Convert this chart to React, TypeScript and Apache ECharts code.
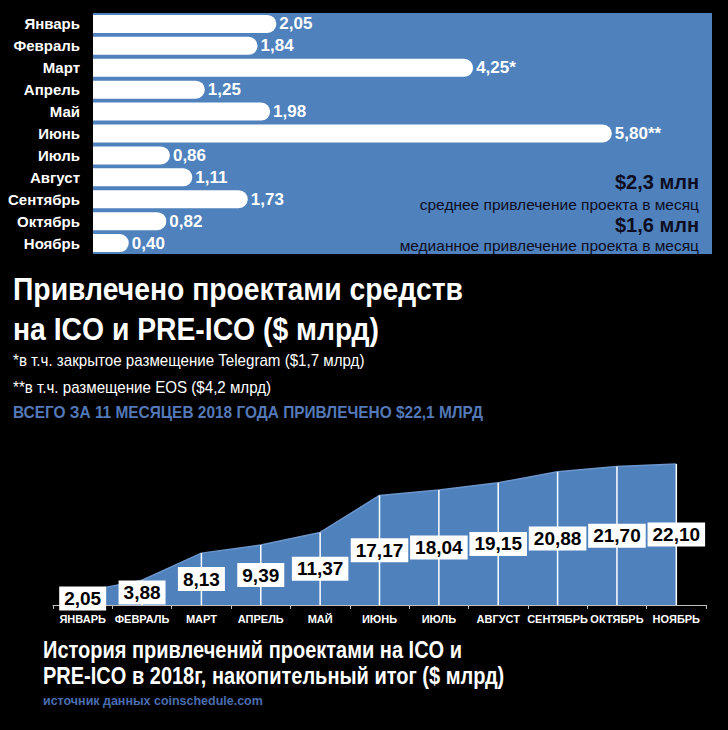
import React, { useEffect, useRef } from "react";
import * as echarts from "echarts";

const months = ["Январь", "Февраль", "Март", "Апрель", "Май", "Июнь", "Июль", "Август", "Сентябрь", "Октябрь", "Ноябрь"];
const monthly = [2.05, 1.84, 4.25, 1.25, 1.98, 5.8, 0.86, 1.11, 1.73, 0.82, 0.4];
const notes = ["", "", "*", "", "", "**", "", "", "", "", ""];
const monthsCaps = ["ЯНВАРЬ", "ФЕВРАЛЬ", "МАРТ", "АПРЕЛЬ", "МАЙ", "ИЮНЬ", "ИЮЛЬ", "АВГУСТ", "СЕНТЯБРЬ", "ОКТЯБРЬ", "НОЯБРЬ"];
const cumulative = [2.05, 3.88, 8.13, 9.39, 11.37, 17.17, 18.04, 19.15, 20.88, 21.7, 22.1];

const BLUE = "#4f81bd";
const FONT = "Liberation Sans, Arial, sans-serif";
const fmt = (v: number) => v.toFixed(2).replace(".", ",");

const txt = (text: string, x: number, y: number, font: string, fill: string, align: string, scaleX = 1) => ({
  type: "text",
  x,
  y,
  scaleX,
  style: { text, fill, font, textAlign: align, textVerticalAlign: "middle" },
});

export default function App() {
  const ref = useRef<HTMLDivElement>(null);
  useEffect(() => {
    if (!ref.current) return;
    const chart = echarts.init(ref.current, undefined, { renderer: "svg" });
    chart.setOption({
      animation: false,
      backgroundColor: "#000",
      textStyle: { fontFamily: FONT },
      grid: [
        { left: 93, top: 13, width: 619, height: 241, show: true, backgroundColor: BLUE, borderWidth: 0, containLabel: false },
        { left: 53, right: 22, top: 445.5, bottom: 125, containLabel: false },
      ],
      xAxis: [
        { gridIndex: 0, type: "value", min: 0, max: 6.92, show: false },
        {
          gridIndex: 1,
          type: "category",
          data: monthsCaps,
          boundaryGap: true,
          axisLine: { lineStyle: { color: "#bfbfbf", width: 1 } },
          axisTick: { show: true, length: 4, lineStyle: { color: "#bfbfbf" } },
          axisLabel: { color: "#fff", fontWeight: "bold", fontSize: 11, margin: 8, interval: 0, fontFamily: FONT },
        },
      ],
      yAxis: [
        {
          gridIndex: 0,
          type: "category",
          data: months,
          inverse: true,
          axisLine: { show: false },
          axisTick: { show: false },
          axisLabel: { color: "#fff", fontWeight: "bold", fontSize: 15, margin: 13, fontFamily: FONT },
        },
        { gridIndex: 1, type: "value", min: 0, max: 25, show: false, splitLine: { show: false } },
      ],
      series: [
        {
          type: "bar",
          xAxisIndex: 0,
          yAxisIndex: 0,
          data: monthly,
          barWidth: 18,
          itemStyle: { color: "#fff", borderRadius: [0, 9, 9, 0] },
          label: {
            show: true,
            position: "right",
            distance: 3,
            color: "#fff",
            fontWeight: "bold",
            fontSize: 17,
            fontFamily: FONT,
            formatter: (p: any) => fmt(p.value) + notes[p.dataIndex],
          },
        },
        {
          type: "line",
          xAxisIndex: 1,
          yAxisIndex: 1,
          data: cumulative,
          symbol: "none",
          z: 1,
          lineStyle: { color: "#6a96cc", width: 1.5 },
          areaStyle: { color: BLUE, opacity: 1 },
        },
        {
          type: "bar",
          xAxisIndex: 1,
          yAxisIndex: 1,
          data: cumulative,
          barWidth: 1.5,
          z: 3,
          itemStyle: { color: "#fff" },
          label: {
            show: true,
            position: "inside",
            color: "#000",
            backgroundColor: "#fff",
            fontWeight: "bold",
            fontSize: 19,
            fontFamily: FONT,
            padding: [3, 5, 2, 5],
            formatter: (p: any) => fmt(p.value),
          },
        },
      ],
      graphic: [
        txt("$2,3 млн", 699, 182, `bold 20px ${FONT}`, "#0d0d22", "right"),
        txt("среднее привлечение проекта в месяц", 699, 204, `15.5px ${FONT}`, "#0d0d22", "right"),
        txt("$1,6 млн", 699, 225, `bold 20px ${FONT}`, "#0d0d22", "right"),
        txt("медианное привлечение проекта в месяц", 699, 245, `15.5px ${FONT}`, "#0d0d22", "right"),
        txt("Привлечено проектами средств", 13, 289, `bold 32px ${FONT}`, "#fff", "left", 0.885),
        txt("на ICO и PRE-ICO ($ млрд)", 13, 329, `bold 32px ${FONT}`, "#fff", "left", 0.885),
        txt("*в т.ч. закрытое размещение Telegram ($1,7 млрд)", 13, 360, `17px ${FONT}`, "#fff", "left", 0.89),
        txt("**в т.ч. размещение EOS ($4,2 млрд)", 13, 387, `17px ${FONT}`, "#fff", "left", 0.89),
        txt("ВСЕГО ЗА 11 МЕСЯЦЕВ 2018 ГОДА ПРИВЛЕЧЕНО $22,1 МЛРД", 13, 412, `bold 16.5px ${FONT}`, "#5479b8", "left", 0.935),
        txt("История привлечений проектами на ICO и", 43, 650, `bold 23px ${FONT}`, "#fff", "left", 0.87),
        txt("PRE-ICO в 2018г, накопительный итог ($ млрд)", 43, 676, `bold 23px ${FONT}`, "#fff", "left", 0.87),
        txt("источник данных coinschedule.com", 43, 700, `bold 13px ${FONT}`, "#4a6eb0", "left", 0.96),
      ],
    });
    return () => chart.dispose();
  }, []);
  return <div ref={ref} style={{ position: "fixed", left: 0, top: 0, width: 728, height: 730 }} />;
}
